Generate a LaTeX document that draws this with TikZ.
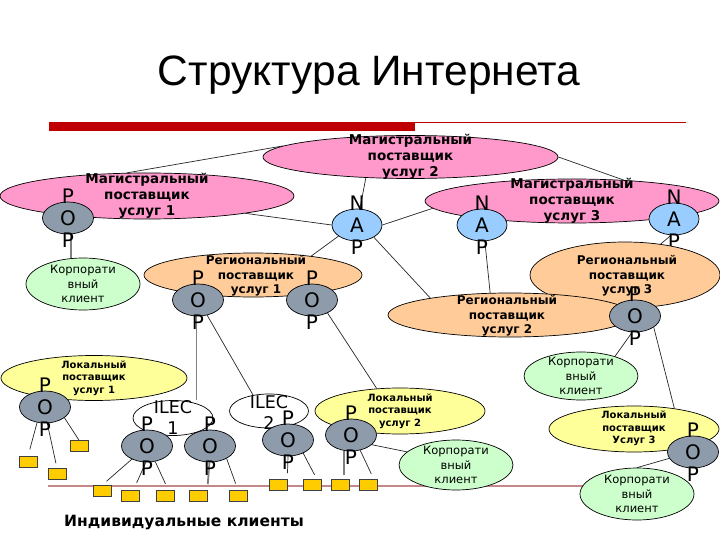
\documentclass[tikz,border=0pt]{standalone}
\usepackage{fontspec}
\setmainfont{DejaVu Sans}
\newfontfamily\titlefont{Liberation Sans}
\usetikzlibrary{shapes.geometric,backgrounds,calc}
\definecolor{magpink}{HTML}{FF99CC}
\definecolor{napblue}{HTML}{99CCFF}
\definecolor{popgray}{HTML}{8E9BAB}
\definecolor{regpeach}{HTML}{FFCC99}
\definecolor{locyellow}{HTML}{FFFF99}
\definecolor{corpgreen}{HTML}{CCFFCC}
\definecolor{sqyellow}{HTML}{FFCC00}
\definecolor{barred}{HTML}{C00000}
\definecolor{busrose}{HTML}{C48888}
\definecolor{lgray}{HTML}{808080}
\begin{document}
\begin{tikzpicture}[x=1pt,y=-1pt,
  every node/.style={inner sep=0pt},
  base/.style={ellipse, draw=black, line width=0.7pt, inner sep=0pt},
  mag/.style={base, fill=magpink},
  nap/.style={base, fill=napblue, minimum width=50pt, minimum height=32pt},
  pop/.style={base, fill=popgray, minimum width=51pt, minimum height=32pt},
  reg/.style={base, fill=regpeach},
  loc/.style={base, fill=locyellow},
  corp/.style={base, fill=corpgreen, minimum width=114pt},
  ilec/.style={base, fill=white, minimum width=80pt, minimum height=35pt},
  sq/.style={rectangle, draw=black!75, line width=0.6pt, fill=sqyellow, minimum width=18pt, minimum height=11pt},
  magt/.style={font=\bfseries\fontsize{13.5}{16}\selectfont, align=center},
  regt/.style={font=\bfseries\fontsize{12}{14.5}\selectfont, align=center},
  loct/.style={font=\bfseries\fontsize{10}{12.3}\selectfont, align=center},
  corpt/.style={font=\fontsize{11.5}{14.5}\selectfont, align=center},
  lett/.style={font=\fontsize{20}{22}\selectfont, align=center},
  ilect/.style={font=\fontsize{17.5}{21}\selectfont, align=center},
  conn/.style={draw=black!85, line width=0.7pt},
  gconn/.style={draw=lgray, line width=1.8pt},
  bus/.style={draw=busrose, line width=2pt}
]
\useasboundingbox (0,0) rectangle (720,540);

% title and bar
\node[font=\titlefont\fontsize{42.5}{50}\selectfont, anchor=base] (title) at (369,86) {Структура Интернета};
\fill[barred] (49,122) rectangle (415,131);
\draw[barred, line width=0.8pt] (415,122.5) -- (686,122.5);

% backbone providers
\node[mag, minimum width=295pt, minimum height=43pt,
  label={[magt]center:{Магистральный\\поставщик\\услуг 2}}] (mag2) at (410.5,157) {};
\node[mag, minimum width=294pt, minimum height=46pt,
  label={[magt]center:{Магистральный\\поставщик\\услуг 1}}] (mag1) at (147,196) {};
\node[mag, minimum width=294pt, minimum height=44pt,
  label={[magt]center:{Магистральный\\поставщик\\услуг 3}}] (mag3) at (572,201) {};

% NAPs
\node[nap, label={[lett]center:{N\\A\\P}}] (nap1) at (357,225) {};
\node[nap, label={[lett]center:{N\\A\\P}}] (nap2) at (482,225) {};
\node[nap, label={[lett]center:{N\\A\\P}}] (nap3) at (674,219) {};

% regional providers
\node[reg, minimum width=190pt, minimum height=66pt,
  label={[regt, xshift=2pt, yshift=-1pt]center:{Региональный\\поставщик\\услуг 3}}] (r3) at (625,275) {};
\node[reg, minimum width=244pt, minimum height=44pt,
  label={[regt, xshift=-3pt, yshift=-1pt]center:{Региональный\\поставщик\\услуг 2}}] (r2) at (510,315) {};
\node[reg, minimum width=218pt, minimum height=44pt,
  label={[regt, xshift=3pt, yshift=-1pt]center:{Региональный\\поставщик\\услуг 1}}] (r1) at (253,275) {};

% corporate clients
\node[corp, minimum height=52pt, label={[corpt]center:{Корпорати\\вный\\клиент}}] (c1) at (83,284) {};
\node[corp, minimum height=48pt, label={[corpt]center:{Корпорати\\вный\\клиент}}] (c2) at (581,376) {};
\node[corp, minimum height=50pt, label={[corpt]center:{Корпорати\\вный\\клиент}}] (c3) at (456,465) {};
\node[corp, minimum height=52pt, label={[corpt]center:{Корпорати\\вный\\клиент}}] (c4) at (637,494) {};

% local providers
\node[loc, minimum width=186pt, minimum height=45pt,
  label={[loct]center:{Локальный\\поставщик\\услуг 1}}] (l1) at (94,378) {};
\node[loc, minimum width=170pt, minimum height=46pt,
  label={[loct]center:{Локальный\\поставщик\\услуг 2}}] (l2) at (400,411) {};
\node[loc, minimum width=170pt, minimum height=46pt,
  label={[loct, yshift=0.5pt]center:{Локальный\\поставщик\\Услуг 3}}] (l3) at (634,429) {};

% ILECs
\node[ilec, label={[ilect, yshift=0.5pt]center:{ILEC\\1}}] (ilec1) at (173,418) {};
\node[ilec, minimum width=79pt, minimum height=34pt, label={[ilect, yshift=-1.5pt]center:{ILEC\\2}}] (ilec2) at (269,411) {};

% POPs
\node[pop, label={[lett]center:{P\\O\\P}}] (popm1) at (68,218) {};
\node[pop, label={[lett]center:{P\\O\\P}}] (popr1a) at (198,300) {};
\node[pop, label={[lett]center:{P\\O\\P}}] (popr1b) at (312,300) {};
\node[pop, label={[lett]center:{P\\O\\P}}] (popr3) at (635,316) {};
\node[pop, label={[lett]center:{P\\O\\P}}] (popl1) at (45,407) {};
\node[pop, label={[lett]center:{P\\O\\P}}] (popa) at (147,446) {};
\node[pop, label={[lett]center:{P\\O\\P}}] (popb) at (210,446) {};
\node[pop, label={[lett]center:{P\\O\\P}}] (popc) at (288,440) {};
\node[pop, label={[lett]center:{P\\O\\P}}] (popd) at (351,435) {};
\node[pop, label={[lett]center:{P\\O\\P}}] (popl3) at (693,452) {};

% individual clients
\node[sq] (s1) at (28,462) {};
\node[sq] (s2) at (57,474) {};
\node[sq] (s3) at (79,446) {};
\node[sq] (s4) at (102,491) {};
\node[sq] (s5) at (130,496) {};
\node[sq] (s6) at (165,496) {};
\node[sq] (s7) at (198,496) {};
\node[sq] (s8) at (238,496) {};
\node[sq] (s9) at (278,485) {};
\node[sq] (s10) at (312,485) {};
\node[sq] (s11) at (340,485) {};
\node[sq] (s12) at (368,485) {};

\node[font=\bfseries\fontsize{15.5}{18}\selectfont] (indiv) at (184,523) {Индивидуальные клиенты};

\coordinate (busL) at (48,486);

\begin{scope}[on background layer]
  \draw[bus] (busL) -- (busL -| c4.center);
  \draw[conn] (mag1.131) -- (mag2.175);
  \draw[conn] (mag2.east) -- (mag3.22);
  \draw[conn] (mag2.205) -- (nap1.80);
  \draw[conn] (mag1.-10) -- (nap1.west);
  \draw[conn] (nap1.east) -- (mag3.183);
  \draw[conn] (nap1.211) -- (r1.18);
  \draw[conn] (nap1.-36) -- (r2.168);
  \draw[conn] (nap2.-80) -- (r2.132);
  \draw[conn] (nap3.-100) -- (r3.41);
  \draw[gconn] (popm1.280) -- (popm1.280 |- c1.north);
  \draw[gconn] (popr1a.265) -- (popr1a.265 |- ilec1.north);
  \draw[conn] (popr1a.-59) -- (ilec2.135);
  \draw[conn] (popr1b.-40) -- (l2.136);
  \draw[conn] (popr3.-100) -- (c2.30);
  \draw[conn] (popr3.-31) -- (l3.27);
  \draw[conn] (popl3.195) -- (c4.north);
  \draw[conn] (popd.-25) -- (c3.165);
  % to individual clients
  \draw[conn, shorten >=7pt] (popl1.243) -- (s1.north);
  \draw[conn, shorten >=5pt] (popl1.278) -- (s2.north);
  \draw[conn] (popl1.331) -- (s3.north);
  \draw[conn, shorten >=6pt] (popa.221) -- (s4.north);
  \draw[conn, shorten >=8pt] (popa.266) -- (s5.60);
  \draw[conn, shorten >=7pt] (popa.298) -- (s6.60);
  \draw[gconn, shorten >=6pt] (popb.268) -- (s7.north east);
  \draw[conn, shorten >=7pt] (popb.323) -- (s8.north);
  \draw[conn, shorten >=6pt] (popc.south) -- (s9.north east);
  \draw[conn, shorten >=5pt] (popc.319) -- (s10.50);
  \draw[gconn, shorten >=4pt] (popd.245) -- (popd.245 |- s11.north);
  \draw[conn, shorten >=6pt] (popd.301) -- (s12.45);
\end{scope}
\end{tikzpicture}
\end{document}
